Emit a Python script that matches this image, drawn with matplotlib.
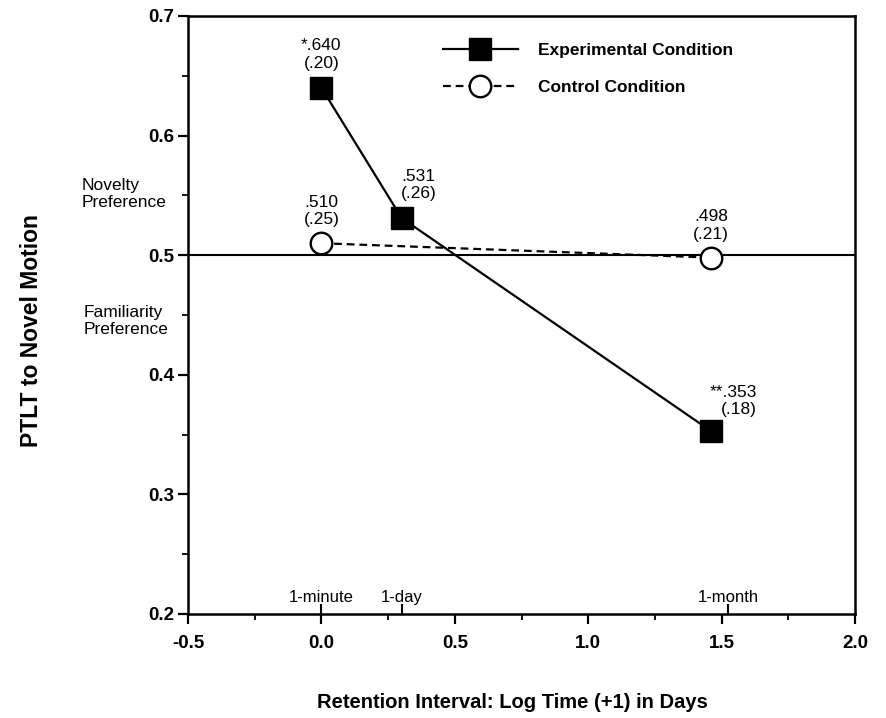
import matplotlib
matplotlib.use("Agg")
import matplotlib.pyplot as plt
from matplotlib.ticker import MultipleLocator

plt.rcParams['font.family'] = ['Liberation Sans', 'DejaVu Sans']

# Data
log_time = [0.0, 0.301, 1.46]
experimental = [0.640, 0.531, 0.353]
control = [0.510, 0.498]
control_x = [0.0, 1.46]
exp_labels = ["*.640\n(.20)", ".531\n(.26)", "**.353\n(.18)"]
ctrl_labels = [".510\n(.25)", ".498\n(.21)"]
interval_x = [0.0, 0.301, 1.525]
interval_labels = ["1-minute", "1-day", "1-month"]
chance = 0.5

fig = plt.figure(figsize=(8.86, 7.18), dpi=100)
ax = fig.add_axes([188/886, 1 - 614/718, (855-188)/886, (614-16)/718])

ax.axhline(chance, color='black', lw=1.5, zorder=1)
ax.plot(log_time, experimental, '-', color='black', lw=1.6, marker='s',
        ms=16, mfc='black', mec='black', label='Experimental Condition', zorder=3)
ax.plot(control_x, control, '--', color='black', lw=1.6, dashes=(3.5, 2.2), marker='o',
        ms=15.5, mfc='white', mec='black', mew=1.7, label='Control Condition', zorder=3)

# annotations
exp_offsets = [(0, 17), (17, 17), (46, 14)]
exp_ha = ['center', 'center', 'right']
for x, y, t, off, ha in zip(log_time, experimental, exp_labels, exp_offsets, exp_ha):
    ax.annotate(t, (x, y), xytext=off, textcoords='offset pixels', ha=ha,
                multialignment=ha, va='bottom', fontsize=12.5, linespacing=1.2)
for x, y, t in zip(control_x, control, ctrl_labels):
    ax.annotate(t, (x, y), xytext=(0, 16), textcoords='offset pixels', ha='center',
                va='bottom', fontsize=12.5, linespacing=1.2)

ax.set_xlim(-0.5, 2.0)
ax.set_ylim(0.2, 0.7)
ax.xaxis.set_major_locator(MultipleLocator(0.5))
ax.xaxis.set_minor_locator(MultipleLocator(0.25))
ax.yaxis.set_major_locator(MultipleLocator(0.1))
ax.yaxis.set_minor_locator(MultipleLocator(0.05))
ax.xaxis.set_major_formatter(lambda v, p: f"{v:.1f}")
ax.yaxis.set_major_formatter(lambda v, p: f"{v:.1f}")
ax.tick_params(axis='both', which='major', direction='out', length=7, width=1.6,
               labelsize=13.5)
ax.tick_params(axis='x', which='major', pad=8)
ax.tick_params(axis='y', which='major', pad=3)
ax.tick_params(axis='both', which='minor', direction='out', length=4, width=1.3)
for lab in ax.get_xticklabels() + ax.get_yticklabels():
    lab.set_fontweight('bold')
for s in ax.spines.values():
    s.set_linewidth(1.8)

# interval ticks inside the bottom axis
sec = ax.secondary_xaxis('bottom')
sec.set_xticks(interval_x, interval_labels)
sec.tick_params(direction='in', length=7, width=1.5, labelsize=12, pad=-17)
sec.spines['bottom'].set_visible(False)

leg = ax.legend(loc='center left', bbox_to_anchor=((443-188)/667, (614-69)/598),
                frameon=False, handlelength=4.3, fontsize=12.5, labelspacing=1.3,
                handletextpad=1.2, borderaxespad=0, borderpad=0)
for t in leg.get_texts():
    t.set_fontweight('bold')

fig.text(82/886, 1 - 194/718, "Novelty\nPreference", ha='left', va='center',
         fontsize=12.5, linespacing=1.15)
fig.text(84/886, 1 - 321/718, "Familiarity\nPreference", ha='left', va='center',
         fontsize=12.5, linespacing=1.15)
fig.text(32/886, 1 - 331/718, "PTLT to Novel Motion", rotation=90, ha='center',
         va='center', fontsize=16.5, fontweight='bold')
fig.text(512/886, 1 - 703/718, "Retention Interval: Log Time (+1) in Days",
         ha='center', va='center', fontsize=14.5, fontweight='bold')

fig.savefig("out.png", dpi=100)
